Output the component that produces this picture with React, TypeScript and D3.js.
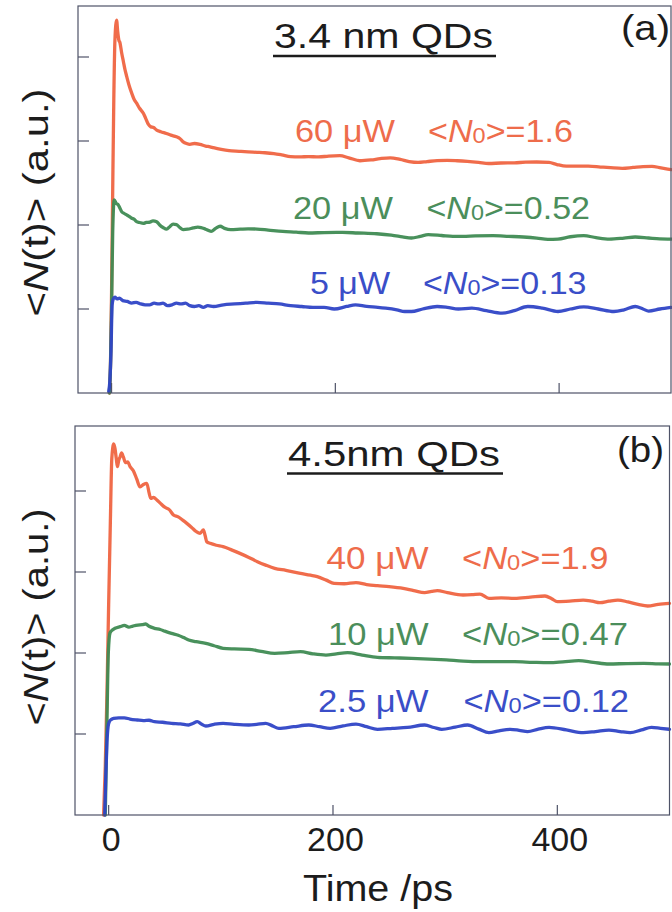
import React from "react";
import * as d3 from "d3";

type Pt = [number, number];

// Axis ticks (time in ps, population in arbitrary units)
const timeTicks = [0, 200, 400];
const levelTicks = [1, 2, 3, 4];

const panelTags = ["(a)", "(b)"];
const panelTitles = ["3.4 nm QDs", "4.5nm QDs"];
const powersA = ["60 μW", "20 μW", "5 μW"];
const powersB = ["40 μW", "10 μW", "2.5 μW"];
const occupancyA = ["1.6", "0.52", "0.13"];
const occupancyB = ["1.9", "0.47", "0.12"];

// 3.4 nm dots: [time ps, <N(t)> a.u.]
const orangeA: Pt[] = [
  [-2, 0], [-1, 0.3], [0, 1.2], [1, 2.4], [2, 3.5], [3, 4.2], [4.5, 4.44], [5.5, 4.3], [6.5, 4.2],
  [7.5, 4.17], [9, 4.05], [10.5, 3.95], [12, 3.85], [13.5, 3.77], [15.5, 3.67], [18, 3.57], [20, 3.5],
  [22.4, 3.45], [25, 3.39], [28.4, 3.33], [30.5, 3.27], [32.8, 3.2], [35, 3.17], [37.5, 3.16],
  [40.3, 3.13], [44, 3.11], [49, 3.09], [53, 3.07], [58, 3.05], [61, 3.03], [64, 2.99], [67, 2.97],
  [70, 2.96], [74, 2.97], [79, 2.96], [84, 2.94], [88, 2.93], [91, 2.92], [98, 2.9], [105, 2.885],
  [114, 2.877], [122, 2.87], [130, 2.865], [137, 2.86], [145, 2.85], [152, 2.835], [160, 2.815],
  [168, 2.81], [176, 2.815], [185, 2.81], [194, 2.82], [204, 2.825], [212, 2.8], [222, 2.765],
  [232, 2.775], [240, 2.79], [249, 2.8], [258, 2.78], [266, 2.755], [274, 2.745], [282, 2.755],
  [291, 2.766], [300, 2.77], [309, 2.765], [318, 2.757], [328, 2.745], [337, 2.732], [348, 2.738],
  [360, 2.74], [370, 2.748], [380, 2.75], [391, 2.745], [398, 2.72], [406.5, 2.7], [416, 2.7],
  [426, 2.7], [437, 2.69], [446, 2.682], [456.5, 2.675], [466, 2.685], [475, 2.695], [483, 2.698],
  [491, 2.68], [500, 2.66],
];

const greenA: Pt[] = [
  [-2, 0], [-1, 0.3], [0, 1.0], [1, 1.9], [2.4, 2.3], [4, 2.26], [6, 2.24], [7.5, 2.2], [9, 2.16],
  [11, 2.14], [13.5, 2.12], [16, 2.1], [18, 2.08], [20, 2.07], [22.4, 2.04], [25, 2.03], [28.4, 2.02],
  [31, 2.03], [34.3, 2.035], [37, 2.05], [40.3, 2.04], [43, 2.0], [46, 1.97], [49.2, 1.95], [52, 1.98],
  [55, 2.01], [58, 2.005], [61, 1.97], [64, 1.945], [68, 1.95], [73, 1.965], [77, 1.975], [80, 1.97],
  [84, 1.95], [89, 1.925], [93, 1.96], [97, 1.985], [101, 1.96], [106.5, 1.944], [115, 1.95],
  [122, 1.955], [130, 1.952], [140, 1.94], [153, 1.924], [165, 1.915], [176, 1.905], [190, 1.91],
  [206.5, 1.912], [220, 1.905], [237, 1.896], [250, 1.88], [260, 1.86], [268, 1.845], [276, 1.865],
  [283, 1.885], [295, 1.875], [305, 1.865], [314, 1.864], [325, 1.87], [341, 1.873], [355, 1.865],
  [368, 1.857], [380, 1.845], [390, 1.83], [399, 1.833], [410, 1.86], [422, 1.873], [433, 1.85],
  [445, 1.833], [458, 1.845], [468, 1.857], [480, 1.845], [490, 1.835], [500, 1.833],
];

const blueA: Pt[] = [
  [-2.5, 0.02], [-1.5, 0.15], [-0.5, 0.5], [0.5, 1.05], [1.5, 1.12], [3, 1.14], [5, 1.12], [7, 1.13],
  [10, 1.1], [14, 1.09], [18, 1.07], [22, 1.08], [26, 1.06], [30, 1.05], [34, 1.05], [38, 1.07],
  [42, 1.06], [46, 1.07], [50, 1.04], [54, 1.05], [58, 1.07], [62, 1.06], [66, 1.07], [70, 1.04],
  [74, 1.03], [78, 1.04], [82, 1.02], [86, 1.04], [91, 1.03], [100, 1.05], [110, 1.06], [120, 1.07],
  [130, 1.08], [140, 1.07], [150, 1.06], [160, 1.04], [170, 1.03], [180, 1.02], [190, 1.02],
  [199, 1.0], [210, 1.03], [218, 1.05], [228, 1.03], [238, 1.02], [245, 1.01], [255, 0.99],
  [262, 0.97], [268, 0.97], [278, 1.0], [291, 1.03], [300, 1.02], [310, 1.0], [322, 1.01],
  [335, 0.98], [349, 0.95], [360, 0.98], [372, 1.03], [385, 1.01], [399, 0.97], [410, 1.0],
  [422, 1.025], [435, 1.0], [449, 0.97], [458, 0.99], [468, 1.03], [475, 1.0], [480, 0.975],
  [490, 1.0], [500, 1.02],
];

// 4.5 nm dots
const orangeB: Pt[] = [
  [-4.5, 0], [-3, 0.6], [-1.5, 1.5], [0, 2.6], [1.5, 3.6], [2.8, 4.4], [4.5, 4.58], [5.7, 4.52],
  [6.8, 4.4], [7.8, 4.3], [9, 4.38], [10.2, 4.42], [11.5, 4.47], [13.1, 4.42], [15, 4.35], [17, 4.36],
  [19.1, 4.3], [22, 4.25], [25, 4.15], [28, 4.05], [31, 4.08], [34, 4.095], [36, 3.98], [37.5, 3.91],
  [40, 3.92], [43, 3.89], [46, 3.85], [50, 3.8], [54, 3.77], [57.8, 3.704], [62, 3.68], [66, 3.64],
  [69.7, 3.6], [74, 3.55], [78, 3.5], [81.5, 3.478], [84.5, 3.519], [86, 3.45], [87.5, 3.374],
  [90.5, 3.354], [96, 3.33], [102, 3.313], [110, 3.27], [117, 3.23], [125, 3.18], [132.6, 3.128],
  [140, 3.085], [148, 3.045], [158, 3.02], [171, 2.984], [180, 2.96], [186, 2.942], [194, 2.9],
  [201, 2.86], [210, 2.855], [220.5, 2.868], [230, 2.845], [239.6, 2.831], [250, 2.82],
  [262.6, 2.798], [272, 2.77], [281.7, 2.745], [288, 2.76], [293, 2.77], [302, 2.745], [316, 2.716],
  [324, 2.72], [331, 2.728], [339, 2.675], [350, 2.68], [362, 2.675], [376, 2.69], [389, 2.704],
  [395, 2.67], [400, 2.634], [411, 2.64], [423, 2.654], [431, 2.64], [438, 2.621], [446, 2.64],
  [454, 2.654], [463, 2.63], [472, 2.6], [480.5, 2.58], [490, 2.6], [500, 2.613],
];

const greenB: Pt[] = [
  [-3, 0], [-2.2, 0.6], [-1.2, 1.4], [-0.3, 2.0], [1.25, 2.25], [3.3, 2.284], [5.7, 2.305],
  [10.2, 2.325], [14, 2.34], [18, 2.32], [21.7, 2.333], [26, 2.345], [30, 2.35], [33, 2.358],
  [36, 2.33], [40.8, 2.305], [46, 2.29], [50, 2.27], [56, 2.243], [62, 2.22], [67, 2.19],
  [71.4, 2.16], [78, 2.14], [86.6, 2.12], [94, 2.09], [102, 2.058], [112, 2.05], [125, 2.045],
  [136, 2.02], [148, 1.996], [160, 2.005], [171, 2.016], [182, 1.99], [193.7, 1.975], [203, 1.99],
  [213, 2.004], [226, 1.975], [239.6, 1.947], [255, 1.94], [270, 1.934], [286, 1.925], [301, 1.914],
  [316, 1.9], [331, 1.893], [346, 1.893], [362, 1.893], [378, 1.885], [392.6, 1.88], [405, 1.89],
  [419, 1.905], [432, 1.885], [446, 1.864], [462, 1.87], [477, 1.872], [490, 1.866], [500, 1.864],
];

const blueB: Pt[] = [
  [-3.5, 0], [-2.5, 0.5], [-1.5, 0.9], [-0.5, 1.09], [0.6, 1.152], [2.5, 1.18], [4.5, 1.193],
  [9, 1.2], [14, 1.2], [19, 1.185], [25.5, 1.173], [31, 1.165], [36, 1.17], [40.8, 1.152],
  [48, 1.145], [56, 1.132], [64, 1.125], [71.4, 1.111], [75, 1.13], [79, 1.152], [83, 1.12],
  [86.6, 1.099], [94, 1.12], [102, 1.132], [112, 1.12], [125, 1.111], [132, 1.12], [140, 1.132],
  [146, 1.1], [151.7, 1.07], [165, 1.09], [178.4, 1.111], [188, 1.09], [197.5, 1.07], [209, 1.1],
  [220.5, 1.123], [230, 1.09], [239.6, 1.058], [253, 1.07], [266.4, 1.082], [281.7, 1.111],
  [290, 1.08], [297, 1.058], [309, 1.085], [320, 1.111], [330, 1.06], [339, 1.016], [348, 1.04],
  [358, 1.058], [366, 1.045], [373.5, 1.029], [383, 1.06], [392.6, 1.082], [408, 1.05], [423, 1.016],
  [434, 1.03], [446, 1.049], [456, 1.03], [465, 1.016], [475, 1.05], [484, 1.082], [492, 1.07],
  [500, 1.058],
];

const lineColors = ["#ef6441", "#3f8b53", "#2f44c6"];
const textColors = ["#ee6c4b", "#4b8e5b", "#3a4ec8"];
const INK = "#1c1c1c";
const FRAME = "#4f5368";
const FONT = "'Liberation Sans', Arial, Helvetica, sans-serif";

type Layout = {
  x0: number; x1: number; top: number; bottom: number; unit: number;
  tag: { x: number; y: number; len: number };
  title: { x: number; y: number; len: number; under: number };
  ylab: { y: number; len: number };
  pow: { end: number[]; len: number[]; base: number[] };
  occ: { start: number[]; len: number[] };
};

const layouts: Layout[] = [
  {
    x0: 78, x1: 671, top: 6, bottom: 393, unit: 84,
    tag: { x: 621, y: 40, len: 49 },
    title: { x: 274, y: 47.5, len: 219, under: 56 },
    ylab: { y: 202.5, len: 228 },
    pow: { end: [395, 393, 390], len: [100, 100, 80], base: [141.5, 219, 294] },
    occ: { start: [428, 426.5, 423], len: [145, 163.5, 163.5] },
  },
  {
    x0: 75, x1: 669.5, top: 426, bottom: 815, unit: 81,
    tag: { x: 617, y: 462, len: 47 },
    title: { x: 288, y: 466, len: 212, under: 473.5 },
    ylab: { y: 617, len: 217 },
    pow: { end: [428.5, 428.5, 428.5], len: [102, 100.5, 110.5], base: [569, 645, 712] },
    occ: { start: [462, 462, 463.5], len: [146.5, 166, 165.5] },
  },
];

const panelSeries: Pt[][][] = [
  [orangeA, greenA, blueA],
  [orangeB, greenB, blueB],
];
const panelPowers = [powersA, powersB];
const panelOcc = [occupancyA, occupancyB];

function Panel({ idx }: { idx: number }) {
  const L = layouts[idx];
  const x = d3.scaleLinear().domain([-30, 500]).range([L.x0, L.x1]);
  const y = d3.scaleLinear().domain([0, 4]).range([L.bottom, L.bottom - 4 * L.unit]);
  const line = d3
    .line<Pt>()
    .x((d) => x(d[0]))
    .y((d) => y(d[1]))
    .curve(d3.curveMonotoneX);
  const series = panelSeries[idx];
  const powers = panelPowers[idx];
  const occ = panelOcc[idx];

  return (
    <g>
      {/* curves: highest power first so lower ones sit on top at the rise */}
      {series.map((s, i) => (
        <path
          key={i}
          d={line(s) || ""}
          fill="none"
          stroke={lineColors[i]}
          strokeWidth={3.3}
          strokeLinejoin="round"
          strokeLinecap="round"
          opacity={0.95}
        />
      ))}

      <rect
        x={L.x0}
        y={L.top}
        width={L.x1 - L.x0}
        height={L.bottom - L.top}
        fill="none"
        stroke={FRAME}
        strokeWidth={1.2}
      />
      {levelTicks.map((v) => (
        <line key={"y" + v} x1={L.x0} x2={L.x0 + 11} y1={y(v)} y2={y(v)} stroke={FRAME} strokeWidth={1.2} />
      ))}
      {timeTicks.map((t) => (
        <line key={"x" + t} x1={x(t)} x2={x(t)} y1={L.bottom} y2={L.bottom - 10} stroke={FRAME} strokeWidth={1.2} />
      ))}

      <text x={L.title.x} y={L.title.y} fontSize={35} fill={INK} textLength={L.title.len} lengthAdjust="spacingAndGlyphs">
        {panelTitles[idx]}
      </text>
      <line
        x1={L.title.x - 1}
        x2={L.title.x + L.title.len + 3}
        y1={L.title.under}
        y2={L.title.under}
        stroke={INK}
        strokeWidth={2.6}
      />
      <text x={L.tag.x} y={L.tag.y} fontSize={35} fill={INK} textLength={L.tag.len} lengthAdjust="spacingAndGlyphs">
        {panelTags[idx]}
      </text>

      <text
        transform={`translate(48,${L.ylab.y}) rotate(-90)`}
        textAnchor="middle"
        fontSize={35}
        fill={INK}
        textLength={L.ylab.len}
        lengthAdjust="spacingAndGlyphs"
      >
        {"<"}
        <tspan fontStyle="italic">N</tspan>
        {"(t)> (a.u.)"}
      </text>

      {powers.map((p, i) => (
        <g key={"lab" + i} fill={textColors[i]} fontSize={32}>
          <text
            x={L.pow.end[i] - L.pow.len[i]}
            y={L.pow.base[i]}
            textLength={L.pow.len[i]}
            lengthAdjust="spacingAndGlyphs"
          >
            {p}
          </text>
          <text x={L.occ.start[i]} y={L.pow.base[i]} textLength={L.occ.len[i]} lengthAdjust="spacingAndGlyphs">
            {"<"}
            <tspan fontStyle="italic">N</tspan>
            <tspan fontSize={22} dy={1}>0</tspan>
            <tspan dy={-1}>{">=" + occ[i]}</tspan>
          </text>
        </g>
      ))}

      {idx === 1 &&
        timeTicks.map((t) => (
          <text key={"tl" + t} x={x(t) + 2.5} y={851} textAnchor="middle" fontSize={34} fill={INK}>
            {t}
          </text>
        ))}
      {idx === 1 && (
        <text x={378} y={900.5} textAnchor="middle" fontSize={36} fill={INK} textLength={150} lengthAdjust="spacingAndGlyphs">
          Time /ps
        </text>
      )}
    </g>
  );
}

export default function App() {
  return (
    <svg
      width={672}
      height={912}
      viewBox="0 0 672 912"
      style={{ position: "absolute", left: 0, top: 0, background: "#fff", fontFamily: FONT }}
    >
      <rect width={672} height={912} fill="#fff" />
      <Panel idx={0} />
      <Panel idx={1} />
    </svg>
  );
}
